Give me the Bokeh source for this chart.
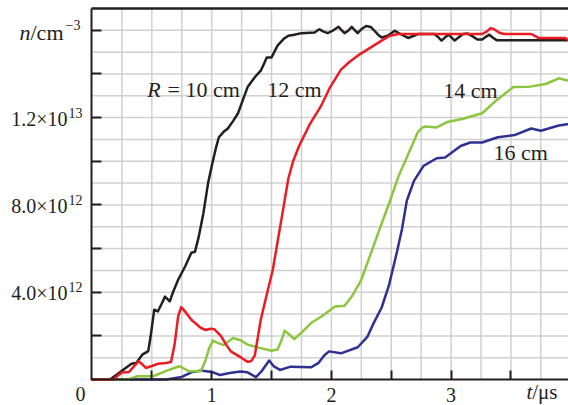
import numpy as np
from bokeh.plotting import figure
from bokeh.models import Label, FixedTicker, LinearAxis, Range1d
from bokeh.embed import file_html
from bokeh.resources import INLINE

# ---------------- data: t in microseconds, n in units of 1e12 cm^-3 ----------------
t_10 = [0.00, 0.15, 0.20, 0.25, 0.33, 0.37, 0.42, 0.47, 0.49, 0.52, 0.55, 0.58, 0.61, 0.65, 0.68,
        0.72, 0.78, 0.83, 0.86, 0.89, 0.93, 0.97, 1.005, 1.035, 1.06, 1.10, 1.135, 1.18, 1.22, 1.26,
        1.30, 1.36, 1.41, 1.44, 1.46, 1.50, 1.55, 1.60, 1.64, 1.69, 1.75, 1.86, 1.88, 1.90, 1.93,
        1.97, 2.01, 2.06, 2.09, 2.11, 2.14, 2.17, 2.20, 2.22, 2.25, 2.29, 2.33, 2.36, 2.39, 2.42,
        2.47, 2.53, 2.58, 2.64, 2.69, 2.72, 2.86, 2.89, 2.92, 2.95, 2.98, 3.03, 3.07, 3.10, 3.14,
        3.18, 3.22, 3.26, 3.29, 3.32, 3.35, 3.38, 3.99]
n_10 = [0.00, 0.00, 0.20, 0.40, 0.72, 0.76, 1.14, 1.30, 1.98, 3.20, 3.12, 3.45, 3.80, 3.58, 4.05,
        4.57, 5.20, 5.81, 5.85, 6.50, 7.60, 9.00, 9.90, 10.60, 11.10, 11.35, 11.50, 11.85, 12.20, 12.80,
        13.40, 13.85, 14.15, 14.50, 14.76, 14.76, 15.30, 15.60, 15.75, 15.80, 15.87, 15.90, 15.98, 16.05, 15.95,
        15.87, 15.98, 16.16, 15.98, 15.87, 15.98, 16.16, 15.98, 15.87, 16.05, 16.20, 16.15, 15.98, 15.80, 15.67,
        15.75, 15.98, 15.82, 15.65, 15.75, 15.83, 15.83, 15.70, 15.53, 15.68, 15.80, 15.53, 15.70, 15.83, 15.85,
        15.72, 15.58, 15.58, 15.70, 15.80, 15.66, 15.55, 15.55]

t_12 = [0.00, 0.18, 0.22, 0.25, 0.31, 0.35, 0.39, 0.42, 0.45, 0.50, 0.55, 0.62, 0.66, 0.69, 0.72,
        0.745, 0.78, 0.83, 0.91, 0.95, 0.99, 1.02, 1.05, 1.08, 1.12, 1.16, 1.25, 1.30, 1.33, 1.36,
        1.41, 1.46, 1.51, 1.55, 1.60, 1.64, 1.68, 1.73, 1.82, 1.91, 1.99, 2.08, 2.15, 2.22, 2.33,
        2.42, 2.49, 2.56, 3.26, 3.30, 3.33, 3.36, 3.40, 3.44, 3.67, 3.73, 3.95, 3.99]
n_12 = [0.00, 0.00, 0.20, 0.32, 0.35, 0.60, 0.84, 0.70, 0.53, 0.62, 0.72, 0.76, 0.80, 1.60, 2.90,
        3.32, 3.10, 2.74, 2.36, 2.27, 2.33, 2.31, 2.15, 1.98, 1.60, 1.29, 0.99, 0.81, 0.84, 1.10,
        2.74, 3.90, 5.02, 6.30, 7.90, 9.20, 10.00, 10.70, 11.70, 12.50, 13.40, 14.20, 14.55, 14.84, 15.22,
        15.53, 15.75, 15.83, 15.83, 15.95, 16.10, 16.05, 15.90, 15.83, 15.83, 15.65, 15.65, 15.53]

t_14 = [0.00, 0.30, 0.38, 0.51, 0.62, 0.73, 0.77, 0.81, 0.91, 0.95, 0.98, 1.01, 1.05, 1.10, 1.18,
        1.24, 1.30, 1.40, 1.50, 1.55, 1.58, 1.61, 1.65, 1.69, 1.75, 1.83, 1.92, 2.03, 2.11, 2.17,
        2.25, 2.33, 2.41, 2.49, 2.56, 2.63, 2.72, 2.76, 2.79, 2.88, 2.97, 3.10, 3.26, 3.38, 3.52,
        3.66, 3.79, 3.86, 3.90, 3.97]
n_14 = [0.00, 0.00, 0.15, 0.15, 0.40, 0.61, 0.50, 0.38, 0.38, 0.91, 1.45, 1.78, 1.68, 1.58, 1.90,
        1.80, 1.60, 1.45, 1.32, 1.38, 1.75, 2.24, 2.05, 1.86, 2.15, 2.59, 2.90, 3.35, 3.38, 3.80,
        4.57, 5.78, 7.00, 8.19, 9.30, 10.17, 11.31, 11.55, 11.59, 11.55, 11.80, 11.95, 12.20, 12.80, 13.40,
        13.42, 13.54, 13.70, 13.80, 13.70]

t_16 = [0.00, 0.62, 0.75, 0.83, 0.91, 1.00, 1.07, 1.15, 1.24, 1.30, 1.37, 1.42, 1.48, 1.52, 1.57,
        1.66, 1.75, 1.83, 1.89, 1.94, 1.98, 2.08, 2.22, 2.30, 2.35, 2.42, 2.48, 2.55, 2.59, 2.63,
        2.69, 2.77, 2.88, 2.95, 3.08, 3.16, 3.26, 3.39, 3.53, 3.67, 3.75, 3.90, 3.97]
n_16 = [0.00, 0.00, 0.12, 0.33, 0.41, 0.35, 0.21, 0.30, 0.37, 0.33, 0.11, 0.40, 0.87, 0.60, 0.44,
        0.59, 0.57, 0.56, 0.75, 1.10, 1.29, 1.20, 1.48, 1.95, 2.55, 3.30, 4.30, 5.90, 6.90, 8.19,
        9.10, 9.79, 10.14, 10.17, 10.70, 10.86, 10.86, 11.10, 11.20, 11.50, 11.40, 11.64, 11.70]

x_ticks = [0.5, 1, 1.5, 2, 2.5, 3, 3.5]
x_tick_labels = {1: "1", 2: "2", 3: "3"}
x_grid = [0.25, 0.5, 0.75, 1, 1.25, 1.5, 1.75, 2, 2.25, 2.5, 2.75, 3, 3.25, 3.5, 3.75]
y_ticks = [2, 4, 6, 8, 10, 12, 14, 16]
y_grid = [1, 2, 3, 4, 5, 6, 7, 8, 9, 10, 11, 12, 13, 14, 15, 16]
y_tick_labels = {4: ("4.0×10", "12"), 8: ("8.0×10", "12"), 12: ("1.2×10", "13")}

series = [
    (t_10, n_10, "#231f20"),
    (t_16, n_16, "#2e3192"),
    (t_14, n_14, "#8cc63f"),
    (t_12, n_12, "#ed1c24"),
]

# plot region limits (data) and pixel sizes in data units (for text placement)
X_END = 3.981
Y_TOP = 17.0
PX = 1 / 119.7
PY = 1 / 21.86
LIFT = 7 * PY  # compensates where the renderer puts the text baseline

FONT = "Liberation Serif"
INK = "#231f20"

# the frame fills the whole canvas; axes are drawn at fixed data locations
p = figure(width=568, height=405,
           x_range=Range1d(-91.5 * PX, X_END), y_range=Range1d(-26 * PY, Y_TOP + 8 * PY),
           output_backend="svg", toolbar_location=None,
           min_border_left=0, min_border_right=0, min_border_top=0, min_border_bottom=0,
           outline_line_color=None, background_fill_color="white", border_fill_color="white")
p.xgrid.visible = False
p.ygrid.visible = False

# grid (only inside the plot region)
p.segment(x0=x_grid, y0=[0] * len(x_grid), x1=x_grid, y1=[Y_TOP] * len(x_grid),
          line_color="#d0d0d0", line_width=1.5)
p.segment(x0=[0] * len(y_grid), y0=y_grid, x1=[X_END] * len(y_grid), y1=y_grid,
          line_color="#d0d0d0", line_width=1.5)

for ax, ticks, tin, bnd in ((p.xaxis[0], x_ticks, 9, (0, X_END)), (p.yaxis[0], y_ticks, 10, (0, Y_TOP))):
    ax.fixed_location = 0
    ax.bounds = bnd
    ax.ticker = FixedTicker(ticks=ticks)
    ax.major_tick_in = tin
    ax.major_tick_out = 0
    ax.minor_tick_in = 0
    ax.minor_tick_out = 0
    ax.axis_line_width = 2
    ax.axis_line_color = INK
    ax.major_tick_line_width = 2
    ax.major_tick_line_color = INK
    ax.major_label_text_color = None

top = LinearAxis(ticker=FixedTicker(ticks=[]), fixed_location=Y_TOP, bounds=(0, X_END),
                 axis_line_width=2.5, axis_line_color=INK,
                 major_tick_in=0, major_tick_out=0, minor_tick_in=0, minor_tick_out=0,
                 major_label_text_color=None)
p.add_layout(top, "above")

for t, n, c in series:
    p.line(t, n, line_color=c, line_width=2.5, line_join="round", line_cap="round")

def lab(x, y, text, size=20, align="left", style="normal"):
    p.add_layout(Label(x=x, y=y + LIFT, text=text, text_font=FONT, text_font_size=f"{size}px",
                       text_align=align, text_baseline="alphabetic", text_color=INK,
                       text_font_style=style))

# x tick labels
for v, s in x_tick_labels.items():
    lab(v, -22.7 * PY, s, align="center")
lab(-11.5 * PX, -21 * PY, "0", align="center")

# y tick labels with superscripts
for v, (main, sup) in y_tick_labels.items():
    lab(-24.5 * PX, v - 8 * PY, main, align="right")
    lab(-23.5 * PX, v - 2 * PY, sup, size=14, align="left")

# axis titles
lab(-61.5 * PX, 16 - 9 * PY, "n", size=22, style="italic", align="right")
lab(-61.5 * PX, 16 - 9 * PY, "/cm", size=22, align="left")
lab(-26.5 * PX, 16 - 2 * PY, "−3", size=14, align="left")
lab(3.678, -19.5 * PY, "t", size=21, style="italic", align="right")
lab(3.678, -19.5 * PY, "/μs", size=21, align="left")

# curve annotations
lab(0.461, 12.99, "R", size=22, style="italic")
lab(0.631, 12.99, "= 10 cm", size=22)
lab(1.464, 12.99, "12 cm", size=22)
lab(2.934, 12.91, "14 cm", size=22)
lab(3.354, 10.06, "16 cm", size=22)

open("out.html", "w").write(file_html(p, INLINE))
